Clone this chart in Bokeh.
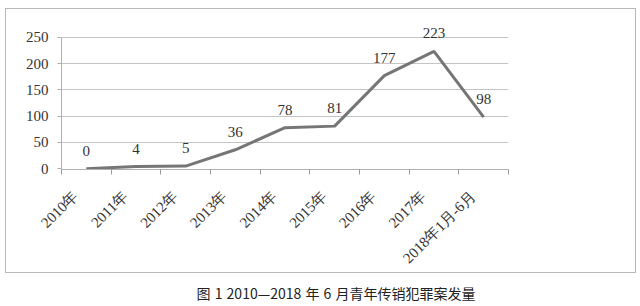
from bokeh.plotting import figure
from bokeh.models import Range1d, FixedTicker, ColumnDataSource, Div, LinearAxis
from bokeh.layouts import column
from bokeh.core.properties import value
from bokeh.embed import file_html
from bokeh.resources import INLINE
import math

categories = ["2010年", "2011年", "2012年", "2013年", "2014年", "2015年", "2016年", "2017年", "2018年1月-6月"]
cases = [0, 4, 5, 36, 78, 81, 177, 223, 98]
y_ticks = [0, 50, 100, 150, 200, 250]
caption = "图 1 2010—2018 年 6 月青年传销犯罪案发量"

n = len(categories)
xs = [i + 0.5 for i in range(n)]
src = ColumnDataSource(dict(x=xs, y=cases, lbl=[str(v) for v in cases]))

p = figure(width=631, height=265, output_backend="svg", toolbar_location=None,
           x_range=Range1d(0, n), y_range=Range1d(-1.5, 280),
           min_border_left=55, min_border_right=129, min_border_top=12, min_border_bottom=104,
           margin=(8, 0, 0, 5), styles={"border": "1px solid #b8b8b8", "box-sizing": "border-box"})
p.outline_line_color = None
p.background_fill_color = "white"
p.border_fill_color = "white"

p.line("x", "y", source=src, line_color="#767676", line_width=3)
p.text("x", "y", text="lbl", source=src, text_align="center", text_baseline="middle",
       y_offset=-18, text_font=value("Liberation Serif"), text_font_size="15px", text_color="#333333")

# x axis: tick marks at category boundaries (no labels)
bounds_ticks = [float(i) for i in range(n + 1)]
xa = p.xaxis[0]
xa.ticker = FixedTicker(ticks=bounds_ticks)
xa.major_label_overrides = {t: "" for t in bounds_ticks}
xa.major_label_standoff = 0
xa.minor_tick_line_color = None
xa.major_tick_out = 5
xa.major_tick_in = 0
xa.major_tick_line_color = "#999999"
xa.axis_line_color = "#b0b0b0"

# x axis labels near category centres
label_pos = [x - 0.22 for x in xs]
xl = LinearAxis(ticker=FixedTicker(ticks=label_pos))
xl.major_label_overrides = {float(x): c for x, c in zip(label_pos, categories)}
xl.major_label_orientation = math.pi / 4
xl.axis_line_color = None
xl.major_tick_line_color = None
xl.minor_tick_line_color = None
xl.major_label_text_font = "Liberation Serif"
xl.major_label_text_font_size = "15px"
xl.major_label_text_color = "#333333"
xl.major_label_standoff = 13
p.add_layout(xl, "below")

ya = p.yaxis[0]
ya.ticker = FixedTicker(ticks=y_ticks)
ya.bounds = (-1.5, 250)
ya.minor_tick_line_color = None
ya.major_tick_out = 4
ya.major_tick_in = 0
ya.major_tick_line_color = "#b0b0b0"
ya.axis_line_color = "#b0b0b0"
ya.major_label_text_font = "Liberation Serif"
ya.major_label_text_font_size = "15px"
ya.major_label_text_color = "#333333"
ya.major_label_standoff = 9

p.xgrid.grid_line_color = None
p.ygrid.ticker = FixedTicker(ticks=y_ticks[1:])
p.ygrid.grid_line_color = "#c4c4c4"
p.ygrid.grid_line_width = 1

cap = Div(text=caption, width=600, height=22, margin=(9, 0, 0, 36),
          styles={"text-align": "center", "font-family": "Noto Sans CJK SC", "font-size": "14px",
                  "color": "#222222", "line-height": "22px", "width": "600px",
                  "word-spacing": "1px"})

layout = column(p, cap, spacing=0)
open("out.html", "w").write(file_html(layout, INLINE))
